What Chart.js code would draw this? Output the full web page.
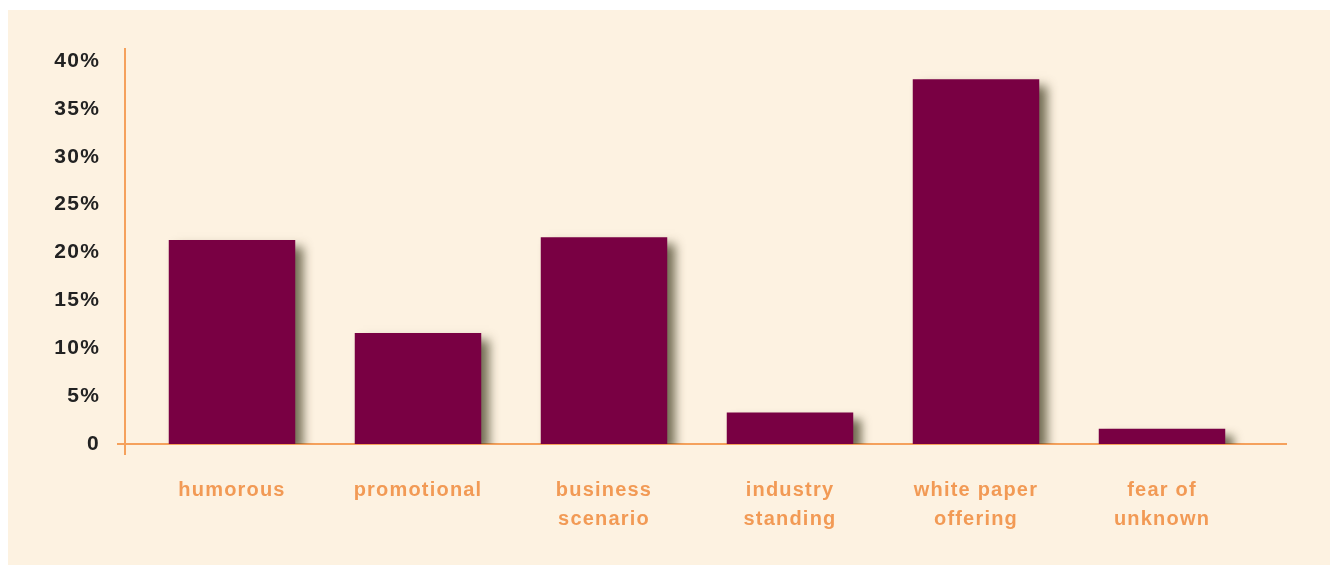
<!DOCTYPE html>
<html>
<head>
<meta charset="utf-8">
<script src="https://cdn.jsdelivr.net/npm/chart.js@4/dist/chart.umd.min.js"></script>
<style>
html,body{margin:0;padding:0;background:#ffffff;}
canvas{display:block;}
</style>
</head>
<body>
<canvas id="c" width="1337" height="573"></canvas>
<script>
const categories = [["humorous"], ["promotional"], ["business", "scenario"], ["industry", "standing"], ["white paper", "offering"], ["fear of", "unknown"]];
const shares = [21.3, 11.6, 21.6, 3.3, 38.1, 1.6];
const tickValues = [0, 5, 10, 15, 20, 25, 30, 35, 40];
const tickLabels = ["0", "5%", "10%", "15%", "20%", "25%", "30%", "35%", "40%"];

const panelPlugin = {
  id: 'panel',
  beforeDraw(chart) {
    const ctx = chart.ctx;
    ctx.save();
    ctx.fillStyle = '#ffffff';
    ctx.fillRect(0, 0, chart.width, chart.height);
    ctx.fillStyle = '#fdf2e1';
    ctx.fillRect(8, 10, 1322, 555);
    ctx.restore();
    ctx.letterSpacing = '1.2px';
  },
  beforeDatasetsDraw(chart) {
    const ctx = chart.ctx;
    const y0 = chart.scales.y.getPixelForValue(0);
    ctx.save();
    ctx.strokeStyle = '#f5a15c';
    ctx.lineWidth = 2;
    ctx.beginPath();
    ctx.moveTo(125, 48);
    ctx.lineTo(125, y0 + 11);
    ctx.moveTo(117, y0);
    ctx.lineTo(1287, y0);
    ctx.stroke();
    ctx.restore();
    ctx.save();
    ctx.shadowColor = 'rgba(60,55,28,0.72)';
    ctx.shadowOffsetX = 8;
    ctx.shadowOffsetY = 7;
    ctx.shadowBlur = 10;
  },
  afterDatasetsDraw(chart) {
    chart.ctx.restore();
  }
};

new Chart(document.getElementById('c'), {
  type: 'bar',
  data: {
    labels: categories,
    datasets: [{
      data: shares,
      backgroundColor: '#790043',
      borderWidth: 0,
      barPercentage: 0.68,
      categoryPercentage: 1.0
    }]
  },
  options: {
    responsive: false,
    animation: false,
    events: [],
    layout: { padding: { left: 0, right: 82, top: 61, bottom: 0 } },
    plugins: { legend: { display: false }, tooltip: { enabled: false } },
    scales: {
      x: {
        grid: { display: false, drawTicks: false },
        border: { display: false },
        afterFit(scale) { scale.height = 129; },
        ticks: {
          padding: 32,
          color: '#f29a55',
          font: { family: 'Liberation Sans', size: 20, weight: 'bold', lineHeight: 1.45 },
          maxRotation: 0,
          autoSkip: false
        }
      },
      y: {
        min: 0,
        max: 40,
        afterFit(scale) { scale.width = 139; },
        afterBuildTicks(scale) { scale.ticks = tickValues.map(v => ({ value: v })); },
        grid: { display: false, drawTicks: false },
        border: { display: false },
        ticks: {
          padding: 39,
          color: '#222222',
          font: { family: 'Liberation Sans', size: 21, weight: 'bold' },
          callback(value) { return tickLabels[tickValues.indexOf(value)]; }
        }
      }
    }
  },
  plugins: [panelPlugin]
});
</script>
</body>
</html>
